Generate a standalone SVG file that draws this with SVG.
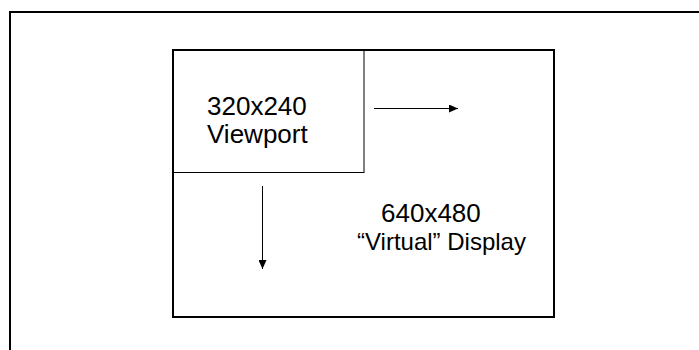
<svg xmlns="http://www.w3.org/2000/svg" width="699" height="350" viewBox="0 0 699 350">
<style>
.lbl{font-family:"Liberation Sans",Arial,sans-serif;font-size:26px;fill:#000}
.thick{fill:none;stroke:#000;stroke-width:2}
.thin{fill:none;stroke:#000;stroke-width:1}
</style>
<defs>
<marker id="ah" markerWidth="9" markerHeight="8" refX="9" refY="4" orient="auto" markerUnits="userSpaceOnUse">
<path d="M0,0 L9,4 L0,8 Z" fill="#000"/>
</marker>
</defs>
<rect width="699" height="350" fill="#fff"/>
<path id="frame" class="thick" d="M10,351 V12 H700"/>
<g id="display">
<rect class="thick" x="173" y="50" width="381" height="267"/>
<text class="lbl" x="381" y="222">640x480</text>
<text class="lbl" x="357" y="250" style="font-size:24px">“Virtual” Display</text>
</g>
<g id="viewport">
<rect class="thin" x="173.5" y="50.5" width="190.5" height="122"/>
<text class="lbl" x="207" y="115">320x240</text>
<text class="lbl" x="207" y="143">Viewport</text>
</g>
<g id="connectors">
<line class="thin" x1="374" y1="108.5" x2="458" y2="108.5" marker-end="url(#ah)"/>
<line class="thin" x1="262.5" y1="186" x2="262.5" y2="269" marker-end="url(#ah)"/>
</g>
</svg>
